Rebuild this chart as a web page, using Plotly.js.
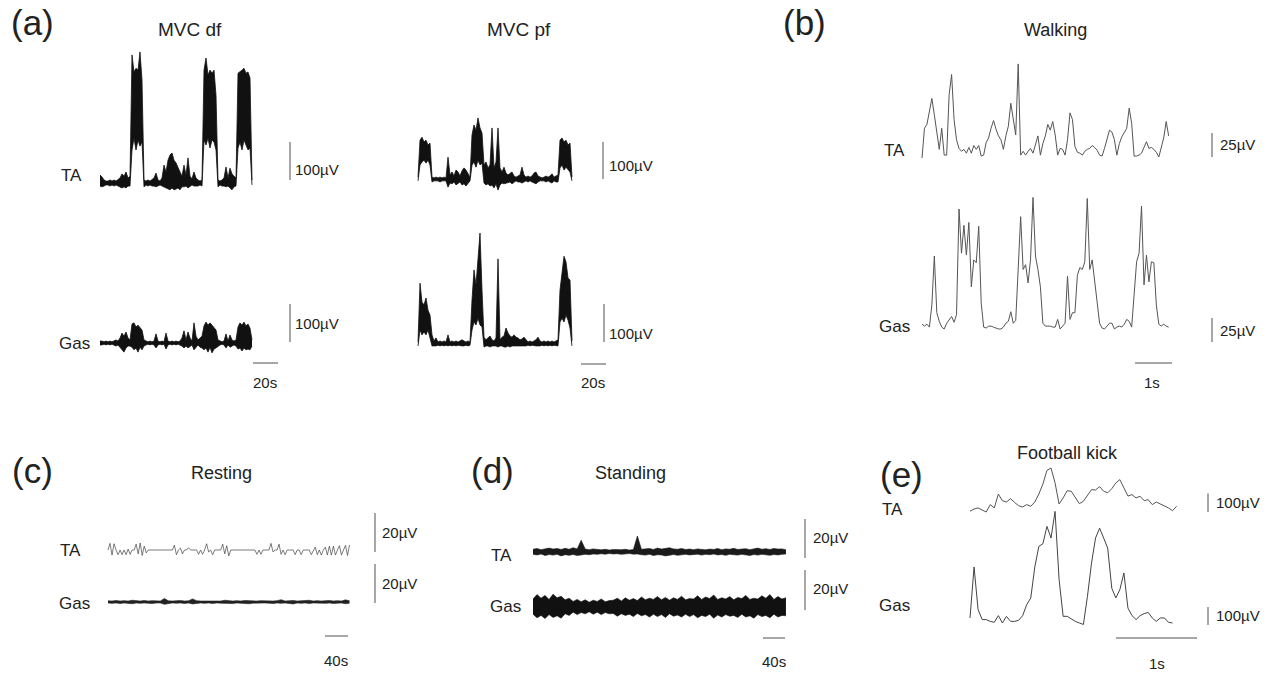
<!DOCTYPE html>
<html><head><meta charset="utf-8">
<script src="https://cdn.plot.ly/plotly-3.0.1.min.js"></script>
<style>html,body{margin:0;padding:0;background:#fff}#chart{width:1270px;height:675px}</style>
</head><body><div id="chart"></div>
<script>
// ---------- DATA (µV, uniform sampling) ----------
// (a) MVC dorsiflexion, envelope of raw EMG (upper / lower), dt = 1.6 s
const mvcDfTA_up = [21,16,8,5,5,8,5,8,5,8, 13,24,18,29,13,18,337,292,302,297, 345,271,8,5,8,5,8,13,26,8,
  5,13,47,29,60,74,79,60,53,39, 29,18,47,21,66,18,11,29,13,8, 5,8,297,329,284,297,289,297,231,8,
  5,8,13,42,13,39,24,18,13,289, 292,297,302,289,292,276,8];
const mvcDfTA_lo = [-8,-10,-8,-5,-5,-8,-5,-8,-5,-8, -10,-13,-10,-13,-8,-8,87,118,87,113, 97,108,-10,-5,-8,-5,-8,-8,-10,-8,
  -5,-8,-10,-13,-16,-18,-13,-18,-16,-13, -18,-10,-10,-8,-13,-8,-5,-8,-8,-8, -5,-8,113,100,118,92,113,108,87,-10,
  -5,-8,-8,-10,-8,-13,-18,-10,-8,92, 108,87,113,100,87,92,-5];
const mvcDfGas_up = [5,5,3,5,3,5,3,5,8,5, 13,26,18,29,13,8,50,53,42,47, 39,34,8,5,3,5,3,5,24,5,
  3,5,3,26,5,3,5,3,5,3, 5,13,32,8,29,13,5,53,18,8, 13,18,45,55,47,53,47,39,34,8,
  5,3,5,24,5,21,8,5,8,42, 53,47,55,45,50,39,8];
const mvcDfGas_lo = [-5,-5,-3,-5,-3,-5,-3,-5,-8,-5, -11,-18,-24,-13,-8,-8,-11,-18,-13,-24, -11,-18,-8,-5,-3,-5,-3,-5,-13,-5,
  -3,-5,-3,-16,-5,-3,-5,-3,-5,-3, -5,-8,-13,-8,-13,-8,-5,-18,-11,-5, -11,-13,-18,-13,-24,-11,-26,-16,-13,-8,
  -5,-3,-5,-13,-5,-11,-8,-5,-8,-16, -13,-21,-13,-18,-16,-18,-8];
// (a) MVC plantarflexion
const mvcPfTA_up = [5,105,113,100,105,92,97,5,3,5, 3,5,3,5,3,59,11,19,8,24, 19,8,22,30,24,14,5,119,146,132,
  165,138,124,38,46,30,38,138,30,46, 138,30,19,32,16,11,14,19,8,5, 8,11,32,11,5,8,5,8,16,19,
  8,5,3,5,8,5,8,14,5,8, 11,105,111,100,105,92,97,5];
const mvcPfTA_lo = [-5,38,46,51,43,51,38,-8,-5,-5, -5,-8,-5,-5,-5,-22,-11,-13,-8,-16, -11,-8,-16,-13,-19,-11,-5,38,46,32,
  51,38,43,-11,-16,-13,-19,-16,-24,-13, -30,-16,-11,-13,-11,-8,-8,-13,-8,-5, -8,-8,-11,-8,-5,-8,-5,-8,-11,-13,
  -8,-5,-5,-5,-8,-5,-8,-11,-5,-8, -8,30,38,24,32,24,19,-5];
const mvcPfGas_up = [5,160,110,103,121,89,76,24,8,16, 5,8,5,8,5,24,5,8,5,8, 5,8,11,8,5,8,5,116,195,155,
  226,292,142,18,11,16,21,11,8,16, 224,11,18,21,42,29,21,18,24,18, 16,11,13,18,11,5,8,5,8,11,
  18,8,5,8,5,8,5,8,5,8, 11,142,195,231,216,174,168,8];
const mvcPfGas_lo = [-5,37,24,32,24,37,16,-5,-5,-5, -3,-5,-3,-5,-3,-5,-3,-5,-3,-5, -3,-5,-5,-5,-3,-5,-3,37,58,50,
  68,50,45,-8,-5,-5,-8,-5,-5,-5, -8,-5,-5,-8,-8,-5,-8,-5,-5,-5, -5,-5,-5,-5,-5,-3,-5,-3,-5,-5,
  -5,-5,-3,-5,-3,-5,-3,-5,-3,-5, -5,58,68,58,76,63,42,-5];
// (b) Walking, dt = 1/15 s
const walkTA = [0,31,35,49,62,45,29,9,31,3, 3,66,87,40,19,10,7,9,5,11, 5,13,9,13,2,3,16,21,31,39,
  30,23,19,9,23,33,57,40,24,98, 3,7,3,7,10,5,13,23,3,15, 23,35,29,38,24,3,10,9,3,19,
  47,40,12,6,5,3,7,9,10,13, 11,8,3,2,10,19,29,27,19,3, 15,22,26,31,52,36,2,2,3,5,
  11,17,10,11,9,6,1,11,21,38, 23];
const walkGas = [5,3,5,2,25,76,17,8,2,0, 6,9,13,7,15,125,79,108,77,111, 44,72,69,107,27,2,1,3,3,2,
  1,0,0,2,6,8,18,6,9,60, 117,62,67,48,72,137,76,62,44,6, 3,3,3,2,2,10,0,3,6,55,
  10,17,17,56,64,62,70,136,62,72, 51,24,6,1,0,3,6,6,0,2, 3,2,5,10,8,2,41,70,79,128,
  46,77,49,70,69,25,5,3,5,3, 2];
// (c) Resting, TA dt = 3.5 s, Gas envelope dt = 7 s
const restTA = [0,3.4,-2.6,3.2,0,-2.4,0,-2.4,0,-2.4, 0.5,-2.2,0,0,3.0,-2.0,3.6,-2.8,2.0,-1.5,
  0,0,0,0,0,0,0,0,0,0, 0,0,0,2.5,-2.4,0,1.0,-2.0,0,0, 1.2,0,0,0,0,-2.2,0,-2.2,0,3.2,
  -1.0,0,-2.4,0,0,0,0,3.0,-2.0,2.2, -3.0,0,0,0,0,0,0,0,0,0, 0,0,0,0,-2.2,0,-2.2,0,0,0,
  0,3.4,-1.0,0,0,3.0,-2.2,0,-2.4,0, 0,0,0,-2.4,0,0,-2.4,0,0,0, 0,-2.4,0,1.5,-2.4,0,-2.6,0,1.5,-2.6,
  2.0,-2.6,2.0,-2.6,0,2.2,-2.6,0,2.4,-2.8, 2.6];
const restGas_up = [0.6,0.5,0.8,0.5,0.7,0.5,0.9,0.6,0.5,0.8, 0.5,0.7,0.6,0.5,1.8,0.6,0.5,0.7,0.8,0.5,
  0.6,1.6,0.7,0.5,0.5,0.8,0.6,0.7,0.5,0.9, 0.6,0.5,0.7,0.5,0.8,0.6,0.5,0.5,0.7,0.6,
  0.8,0.5,0.7,1.2,0.5,0.6,0.8,0.5,0.7,0.6, 0.9,0.5,0.7,0.5,0.6,0.8,0.5,0.7,0.5,1.1, 0.6];
const restGas_lo = [-0.5,-0.7,-0.5,-0.8,-0.5,-0.6,-0.9,-0.5,-0.7,-0.5, -0.6,-0.8,-0.5,-0.5,-1.2,-0.7,-0.5,-0.6,-0.5,-0.8,
  -0.5,-1.0,-0.6,-0.5,-0.7,-0.5,-0.8,-0.5,-0.6,-0.7, -0.5,-0.8,-0.5,-0.6,-0.5,-0.9,-0.6,-0.5,-0.7,-0.5,
  -0.6,-0.8,-0.5,-0.7,-0.5,-0.6,-1.0,-0.5,-0.7,-0.5, -0.8,-0.5,-0.6,-0.5,-0.7,-0.5,-0.8,-0.6,-0.5,-0.9, -0.6];
// (d) Standing, envelope dt = 7.3 s
const standTA_up = [1.4,1.8,1.2,1.6,2.0,1.5,1.8,1.3,1.9,1.4, 2.2,1.6,6.0,1.5,1.2,1.6,1.3,1.1,1.4,1.0,
  1.3,1.1,1.2,1.4,1.0,1.3,8.2,1.4,1.6,1.8, 1.3,2.0,1.5,1.7,2.2,1.6,1.4,1.8,1.3,1.5,
  1.2,1.6,1.4,1.1,1.5,1.3,1.8,1.2,1.6,1.4, 1.9,1.3,1.5,1.7,1.2,1.6,2.0,1.4,1.7,1.3, 1.8,1.5,1.6,1.2];
const standTA_lo = [-1.2,-1.5,-1.0,-1.8,-1.3,-1.6,-1.2,-2.0,-1.4,-1.7, -1.3,-1.8,-1.5,-1.2,-1.4,-1.0,-1.2,-0.9,-1.1,-0.8,
  -1.0,-0.9,-1.2,-1.0,-0.8,-1.1,-1.0,-1.4,-1.6,-1.2, -1.8,-1.4,-1.5,-2.0,-1.6,-1.3,-1.7,-1.4,-1.2,-1.5,
  -1.3,-1.1,-1.6,-1.2,-1.4,-1.0,-1.5,-1.3,-1.7,-1.2, -1.4,-1.6,-1.2,-1.5,-1.8,-1.3,-1.6,-1.2,-1.4,-1.7, -1.3,-1.5,-1.2,-1.0];
const standGas_up = [4.0,6.2,4.4,5.8,3.8,6.4,4.6,5.4,3.6,4.4, 2.8,3.8,2.6,3.6,2.4,3.4,2.8,4.0,2.6,3.2,
  3.4,4.4,3.0,4.6,3.4,4.2,3.2,5.0,3.6,4.4, 3.8,5.2,3.6,4.8,3.4,4.6,3.8,5.4,3.6,4.2,
  4.0,5.6,3.8,5.0,4.2,6.0,3.8,4.6,4.0,5.2, 3.6,4.8,4.2,5.8,3.8,4.4,4.0,5.6,4.4,6.2, 3.8,5.2,4.0,4.6];
const standGas_lo = [-3.6,-5.4,-4.2,-5.8,-3.8,-5.2,-4.4,-5.6,-3.4,-4.2, -2.6,-3.8,-2.8,-3.4,-2.4,-3.6,-2.6,-3.8,-2.8,-3.4,
  -3.2,-4.6,-3.4,-4.2,-3.6,-4.8,-3.2,-4.4,-3.8,-5.0, -3.6,-4.8,-3.8,-5.2,-3.4,-4.6,-4.0,-5.0,-3.6,-4.8,
  -3.8,-5.4,-4.2,-4.8,-3.6,-5.6,-4.0,-5.0,-3.8,-4.6, -4.2,-5.2,-3.6,-5.0,-4.4,-5.6,-3.8,-4.8,-4.2,-5.4, -3.6,-5.0,-4.2,-4.4];
// (e) Football kick, dt = 0.05 s
const kickTA = [4,16,22,11,0,40,22,97,61,54, 72,52,34,27,40,31,54,97,151,225, 238,157,43,76,115,112,76,45,58,90,
  121,119,137,112,104,126,157,175,126,86, 94,76,85,61,67,40,54,43,36,22, 7,31];
const kickGas = [28,311,74,19,19,9,4,41,0,37, 9,9,15,41,102,139,311,426,440,537, 472,620,241,37,37,22,9,0,-8,148,
  333,472,527,472,416,194,139,185,278,83, 41,19,41,52,59,28,9,28,28,4, 0];

// ---------- LAYOUT ----------
const W = 1270, H = 675;
const FONT = '"Liberation Sans", Arial, Helvetica, sans-serif';
const traces = [], shapes = [], annotations = [];
const layout = {
  width: W, height: H, margin: {l:0, r:0, t:0, b:0},
  paper_bgcolor: '#fff', plot_bgcolor: 'rgba(0,0,0,0)', showlegend: false,
  shapes, annotations
};
let n = 0;
// box = [left, right, top, bottom] px; xs = px of t=0; kx px/s; y0 = px of 0 µV; ky px/µV
function panel(box, xs, kx, y0, ky) {
  n++;
  const sfx = n === 1 ? '' : String(n);
  const [L, R, T, B] = box;
  layout['xaxis' + sfx] = {domain: [L / W, R / W], range: [(L - xs) / kx, (R - xs) / kx],
    visible: false, fixedrange: true, anchor: 'y' + sfx};
  layout['yaxis' + sfx] = {domain: [1 - B / H, 1 - T / H], range: [(y0 - B) / ky, (y0 - T) / ky],
    visible: false, fixedrange: true, anchor: 'x' + sfx};
  return {xa: 'x' + sfx, ya: 'y' + sfx, xs, kx, y0, ky};
}
function times(arr, dt) { return arr.map((_, i) => i * dt); }
function band(p, up, lo, dt, color, w) {
  const t = times(up, dt);
  traces.push({x: t, y: lo, xaxis: p.xa, yaxis: p.ya, mode: 'lines', line: {color, width: w},
    hoverinfo: 'skip'});
  traces.push({x: t, y: up, xaxis: p.xa, yaxis: p.ya, mode: 'lines', line: {color, width: w},
    fill: 'tonexty', fillcolor: color, hoverinfo: 'skip'});
}
function trace(p, v, dt, color, w) {
  traces.push({x: times(v, dt), y: v, xaxis: p.xa, yaxis: p.ya, mode: 'lines',
    line: {color, width: w}, hoverinfo: 'skip'});
}
const BAR = {color: '#8a8a8a', width: 1.5};
function vbar(p, px, pyBottom, len) {
  const xd = (px - p.xs) / p.kx, yb = (p.y0 - pyBottom) / p.ky;
  shapes.push({type: 'line', xref: p.xa, yref: p.ya, x0: xd, x1: xd, y0: yb, y1: yb + len, line: BAR});
}
function hbar(p, pxLeft, py, dur) {
  const xd = (pxLeft - p.xs) / p.kx, yd = (p.y0 - py) / p.ky;
  shapes.push({type: 'line', xref: p.xa, yref: p.ya, x0: xd, x1: xd + dur, y0: yd, y1: yd, line: BAR});
}
function label(text, px, py, size, xanchor) {
  annotations.push({text, x: px / W, y: 1 - py / H, xref: 'paper', yref: 'paper',
    xanchor: xanchor || 'center', yanchor: 'middle', showarrow: false,
    font: {family: FONT, size, color: '#222'}});
}

const BLK = '#111';
// (a) MVC df
const pDfTA = panel([95, 300, 45, 195], 100, 1.25, 183, 0.38);
band(pDfTA, mvcDfTA_up, mvcDfTA_lo, 1.6, BLK, 0.8);
vbar(pDfTA, 290, 180, 100);
const pDfGas = panel([95, 300, 295, 372], 100, 1.25, 343, 0.38);
band(pDfGas, mvcDfGas_up, mvcDfGas_lo, 1.6, BLK, 0.8);
vbar(pDfGas, 290, 342, 100);
hbar(pDfGas, 253, 363, 20);
// (a) MVC pf
const pPfTA = panel([413, 615, 100, 195], 418, 1.25, 179, 0.37);
band(pPfTA, mvcPfTA_up, mvcPfTA_lo, 1.6, BLK, 0.8);
vbar(pPfTA, 603, 179, 100);
const pPfGas = panel([413, 615, 225, 372], 418, 1.25, 344, 0.38);
band(pPfGas, mvcPfGas_up, mvcPfGas_lo, 1.6, BLK, 0.8);
vbar(pPfGas, 604, 342, 100);
hbar(pPfGas, 581, 364, 20);
// (b) Walking
const pWTA = panel([915, 1222, 55, 168], 922, 37, 158, 0.96);
trace(pWTA, walkTA, 1 / 15, '#555', 1);
vbar(pWTA, 1212, 157, 25);
const pWGas = panel([915, 1222, 188, 372], 922, 37, 329, 0.96);
trace(pWGas, walkGas, 1 / 15, '#555', 1);
vbar(pWGas, 1212, 342, 25);
hbar(pWGas, 1135, 363, 1);
// (c) Resting
const pRTA = panel([100, 385, 505, 560], 108, 0.575, 550, 1.95);
trace(pRTA, restTA, 3.5, '#444', 0.7);
vbar(pRTA, 375, 552, 20);
const pRGas = panel([100, 385, 560, 645], 108, 0.575, 602, 1.95);
band(pRGas, restGas_up, restGas_lo, 7, '#222', 0.6);
vbar(pRGas, 375, 603, 20);
hbar(pRGas, 325, 636, 40);
// (d) Standing
const pSTA = panel([525, 815, 515, 566], 533, 0.55, 552, 1.95);
band(pSTA, standTA_up, standTA_lo, 7.3, '#1a1a1a', 0.6);
vbar(pSTA, 805, 558, 20);
const pSGas = panel([525, 815, 566, 645], 533, 0.55, 607, 2.0);
band(pSGas, standGas_up, standGas_lo, 7.3, '#111', 0.6);
vbar(pSGas, 805, 610, 20);
hbar(pSGas, 763, 638, 40);
// (e) Football kick
const pKTA = panel([965, 1215, 455, 522], 970, 81, 512, 0.185);
trace(pKTA, kickTA, 0.05, '#555', 1);
vbar(pKTA, 1208, 512, 100);
const pKGas = panel([965, 1215, 500, 645], 970, 81, 623, 0.18);
trace(pKGas, kickGas, 0.05, '#444', 1);
vbar(pKGas, 1208, 625, 100);
hbar(pKGas, 1116, 638, 1);

// ---------- TEXT ----------
label('(a)', 32, 23, 35); label('(b)', 804, 23, 35);
label('(c)', 32, 470, 35); label('(d)', 492, 470, 35); label('(e)', 901, 474, 35);
label('MVC df', 190, 30, 19); label('MVC pf', 519, 30, 19);
label('Walking', 1055, 30, 18); label('Resting', 221, 473, 18);
label('Standing', 630, 473, 18); label('Football kick', 1067, 453, 18);
label('TA', 59, 175, 17, 'left'); label('Gas', 57, 343, 17, 'left');
label('100µV', 293, 170, 15, 'left'); label('100µV', 293, 323, 15, 'left');
label('20s', 265, 383, 15); label('100µV', 607, 165, 15, 'left');
label('100µV', 607, 333, 15, 'left'); label('20s', 593, 383, 15);
label('TA', 882, 150, 17, 'left'); label('Gas', 877, 326, 17, 'left');
label('25µV', 1218, 145, 15, 'left'); label('25µV', 1218, 330, 15, 'left');
label('1s', 1152, 383, 15);
label('TA', 58, 550, 17, 'left'); label('Gas', 57, 603, 17, 'left');
label('20µV', 380, 532, 15, 'left'); label('20µV', 380, 583, 15, 'left');
label('40s', 336, 660, 15);
label('TA', 489, 555, 17, 'left'); label('Gas', 488, 606, 17, 'left');
label('20µV', 811, 537, 15, 'left'); label('20µV', 811, 588, 15, 'left');
label('40s', 774, 661, 15);
label('TA', 880, 509, 17, 'left'); label('Gas', 877, 605, 17, 'left');
label('100µV', 1214, 502, 15, 'left'); label('100µV', 1214, 615, 15, 'left');
label('1s', 1157, 663, 15);

traces.forEach(t => t.showlegend = false);
Plotly.newPlot('chart', traces, layout, {staticPlot: true, displayModeBar: false});
</script></body></html>
